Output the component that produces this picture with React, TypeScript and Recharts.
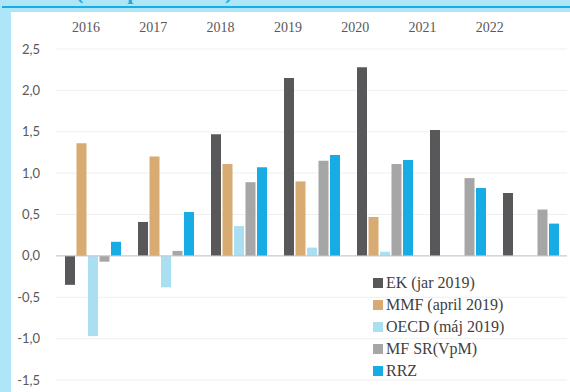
import React from "react";
import { BarChart, Bar, XAxis, YAxis, CartesianGrid, ReferenceLine, Legend } from "recharts";

// odhady podľa inštitúcií, roky 2016–2022
const years = ["2016", "2017", "2018", "2019", "2020", "2021", "2022"];
const ek = [-0.35, 0.41, 1.47, 2.15, 2.28, 1.52, 0.76];
const mmf = [1.36, 1.2, 1.11, 0.9, 0.47, null, null];
const oecd = [-0.97, -0.38, 0.36, 0.1, 0.05, null, null];
const mfsr = [-0.07, 0.06, 0.89, 1.15, 1.11, 0.94, 0.56];
const rrz = [0.17, 0.53, 1.07, 1.22, 1.16, 0.82, 0.39];
const yTicks = [-1.5, -1, -0.5, 0, 0.5, 1, 1.5, 2, 2.5];

const seriesNames = ["EK (jar 2019)", "MMF (april 2019)", "OECD (máj 2019)", "MF SR(VpM)", "RRZ"];
const seriesColors = ["#58585a", "#d8ab73", "#aadff2", "#a6a6a6", "#17ade4"];

const data = years.map((year, i) => ({
  year,
  ek: ek[i],
  mmf: mmf[i],
  oecd: oecd[i],
  mfsr: mfsr[i],
  rrz: rrz[i],
}));
const keys = ["ek", "mmf", "oecd", "mfsr", "rrz"];

const fmt = (v: number) => v.toFixed(1).replace(".", ",");

// legend in the series order (recharts sorts payload by name otherwise)
const renderLegend = () => (
  <div style={{ fontFamily: "'Liberation Serif', serif", fontSize: 16, color: "#3f3f3f" }}>
    {seriesNames.map((name, i) => (
      <div key={name} style={{ display: "flex", alignItems: "center", height: 22 }}>
        <span style={{ width: 10, height: 10, background: seriesColors[i], marginRight: 3, display: "inline-block" }} />
        <span>{name}</span>
      </div>
    ))}
  </div>
);

export default function App() {
  return (
    <div
      style={{
        position: "fixed",
        top: 0,
        left: 0,
        width: 570,
        height: 392,
        background: "#aee6f8",
        overflow: "hidden",
      }}
    >
      {/* clipped title above the rule */}
      <div style={{ position: "absolute", left: 0, top: 0, width: 570, height: 6, overflow: "hidden" }}>
        <div
          style={{
            position: "absolute",
            left: 76,
            top: -21,
            fontFamily: "'Liberation Serif', serif",
            fontSize: 22,
            fontWeight: "bold",
            color: "#17ade4",
            whiteSpace: "nowrap",
          }}
        >
          (v % potenciálu)
        </div>
      </div>
      <div style={{ position: "absolute", left: 2, top: 6, width: 568, height: 2, background: "#17ade4" }} />
      <div style={{ position: "absolute", left: 11, top: 12, width: 559, height: 380, background: "#ffffff" }} />

      <div style={{ position: "absolute", left: 0, top: 0 }}>
        <BarChart
          width={570}
          height={392}
          data={data}
          margin={{ top: 19, right: 3, bottom: 12, left: 0 }}
          barSize={10}
          barGap={1.5}
        >
          <CartesianGrid xAxisId="main" vertical={false} stroke="#efefef" />
          <XAxis xAxisId="main" dataKey="year" hide />
          <XAxis
            xAxisId="top"
            dataKey="year"
            orientation="top"
            axisLine={false}
            tickLine={false}
            padding={{ left: 0, right: 40 }}
            tickMargin={11}
            dx={-3.6}
            interval={0}
            tick={{ fill: "#595959", fontSize: 14, fontFamily: "'Liberation Serif', serif" }}
          />
          <YAxis
            width={56}
            domain={[-1.5, 2.5]}
            ticks={yTicks}
            tickFormatter={fmt}
            axisLine={false}
            tickLine={false}
            tickMargin={10}
            tick={{ fill: "#595959", fontSize: 13, fontFamily: "Lato, sans-serif" }}
          />
          <ReferenceLine xAxisId="main" y={0} stroke="#c4c4c4" strokeWidth={1} />
          {keys.map((k, i) => (
            <Bar
              key={k}
              xAxisId="main"
              dataKey={k}
              name={seriesNames[i]}
              fill={seriesColors[i]}
              isAnimationActive={false}
            />
          ))}
          <Legend
            layout="vertical"
            align="center"
            verticalAlign="middle"
            content={renderLegend}
            wrapperStyle={{ position: "absolute", left: 373, top: 272, width: "auto" }}
          />
        </BarChart>
      </div>
    </div>
  );
}
